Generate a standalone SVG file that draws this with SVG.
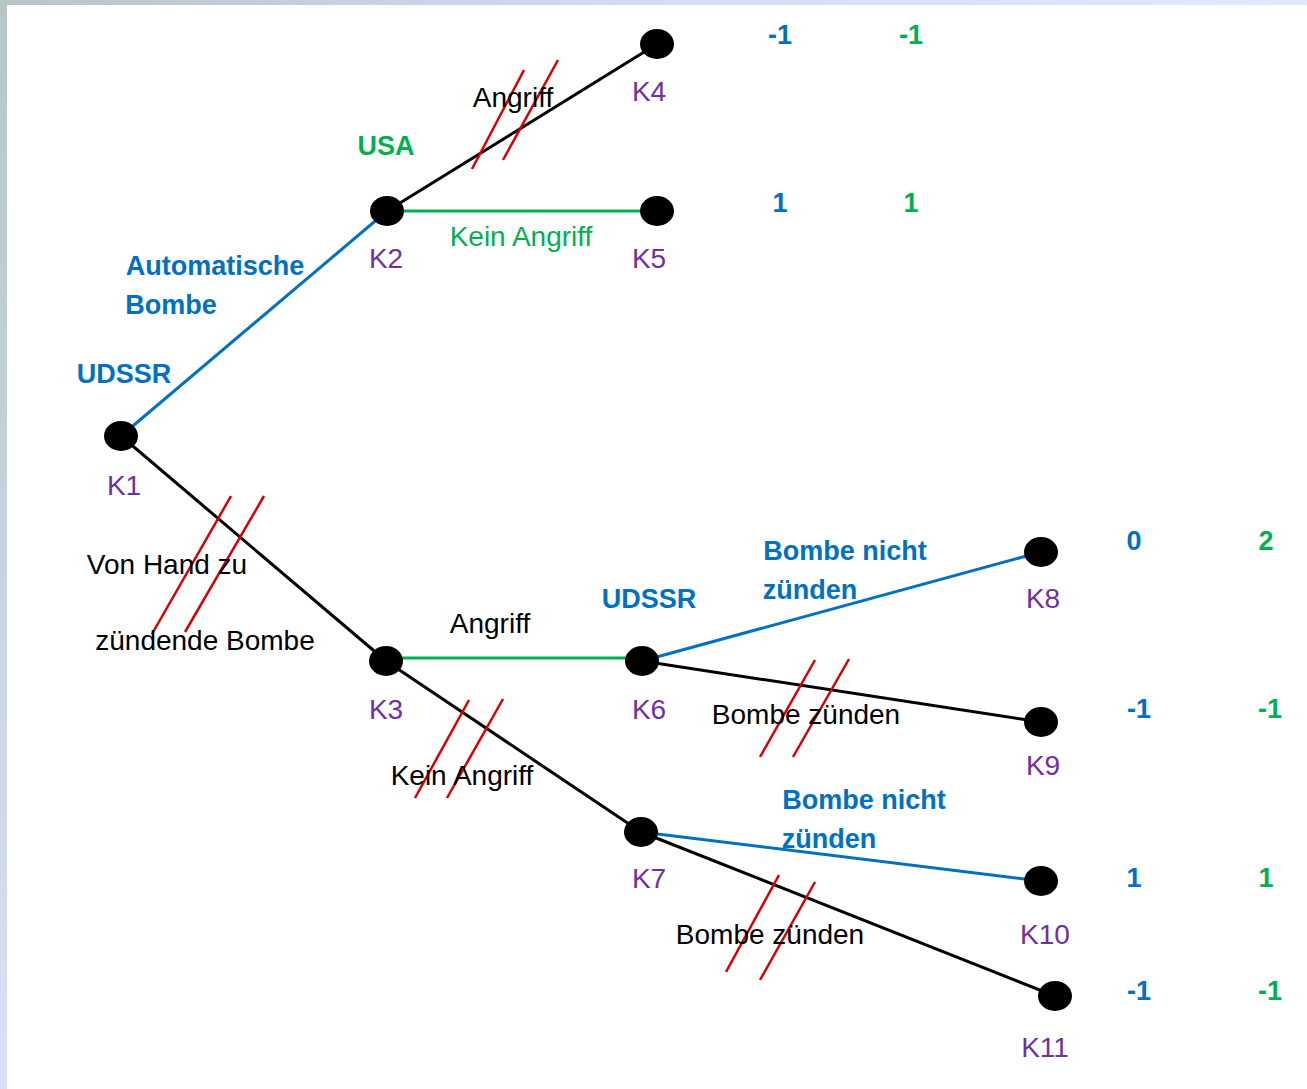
<svg xmlns="http://www.w3.org/2000/svg" width="1307" height="1089" viewBox="0 0 1307 1089">
<defs>
<linearGradient id="gTop" x1="0" y1="0" x2="1" y2="0"><stop offset="0" stop-color="#b6c6c6"/><stop offset="0.5" stop-color="#d3dcf6"/><stop offset="1" stop-color="#e2e9fb"/></linearGradient>
<linearGradient id="gLeft" x1="0" y1="0" x2="0" y2="1"><stop offset="0" stop-color="#b6c6c6"/><stop offset="1" stop-color="#d8e0f8"/></linearGradient>
<style>
text{font-family:"Liberation Sans",Arial,sans-serif;font-size:28px;text-anchor:middle}
.b{font-weight:bold;font-size:27px}
.bl{fill:#0070c0}.gr{fill:#00b050}.pu{fill:#7030a0}.bk{fill:#000}
.eb{stroke:#0070c0;stroke-width:3;fill:none}
.eg{stroke:#00b050;stroke-width:3;fill:none}
.ek{stroke:#000;stroke-width:3;fill:none}
.x{stroke:#d60000;stroke-width:2.5;fill:none}
.n{fill:#000}
</style>
</defs>
<rect width="1307" height="1089" fill="#fff"/>
<rect x="0" y="0" width="1307" height="5" fill="url(#gTop)"/>
<rect x="0" y="0" width="7" height="1089" fill="url(#gLeft)"/>

<g id="connectors">
<line class="eb" x1="121" y1="436" x2="387" y2="211"/>
<line class="ek" x1="121" y1="436" x2="386" y2="661"/>
<line class="ek" x1="387" y1="211" x2="657" y2="44"/>
<line class="eg" x1="387" y1="211" x2="657" y2="211"/>
<line class="eg" x1="386" y1="658" x2="642" y2="658"/>
<line class="ek" x1="386" y1="661" x2="641" y2="832"/>
<line class="eb" x1="642" y1="661" x2="1041" y2="552"/>
<line class="ek" x1="642" y1="661" x2="1041" y2="722"/>
<line class="eb" x1="641" y1="832" x2="1041" y2="881"/>
<line class="ek" x1="641" y1="832" x2="1055" y2="996"/>
</g>

<g id="strikes">
<line class="x" x1="472" y1="169" x2="524" y2="70"/>
<line class="x" x1="503" y1="160" x2="558" y2="60"/>
<line class="x" x1="152" y1="634" x2="231" y2="496"/>
<line class="x" x1="185" y1="632" x2="264" y2="496"/>
<line class="x" x1="415" y1="798" x2="469" y2="700"/>
<line class="x" x1="447" y1="798" x2="503" y2="699"/>
<line class="x" x1="760" y1="757" x2="815" y2="660"/>
<line class="x" x1="793" y1="757" x2="849" y2="659"/>
<line class="x" x1="726" y1="972" x2="779" y2="875"/>
<line class="x" x1="760" y1="980" x2="815" y2="882"/>
</g>

<g id="K1"><ellipse class="n" cx="121" cy="436" rx="17" ry="15"/><text class="pu" x="124" y="495">K1</text></g>
<g id="K2"><ellipse class="n" cx="387" cy="211" rx="17" ry="15"/><text class="pu" x="386" y="268">K2</text></g>
<g id="K3"><ellipse class="n" cx="386" cy="661" rx="17" ry="15"/><text class="pu" x="386" y="719">K3</text></g>
<g id="K4"><ellipse class="n" cx="657" cy="44" rx="17" ry="15"/><text class="pu" x="649" y="101">K4</text></g>
<g id="K5"><ellipse class="n" cx="657" cy="211" rx="17" ry="15"/><text class="pu" x="649" y="268">K5</text></g>
<g id="K6"><ellipse class="n" cx="642" cy="661" rx="17" ry="15"/><text class="pu" x="649" y="719">K6</text></g>
<g id="K7"><ellipse class="n" cx="641" cy="832" rx="17" ry="15"/><text class="pu" x="649" y="888">K7</text></g>
<g id="K8"><ellipse class="n" cx="1041" cy="552" rx="17" ry="15"/><text class="pu" x="1043" y="608">K8</text></g>
<g id="K9"><ellipse class="n" cx="1041" cy="722" rx="17" ry="15"/><text class="pu" x="1043" y="775">K9</text></g>
<g id="K10"><ellipse class="n" cx="1041" cy="881" rx="17" ry="15"/><text class="pu" x="1045" y="944">K10</text></g>
<g id="K11"><ellipse class="n" cx="1055" cy="996" rx="17" ry="15"/><text class="pu" x="1045" y="1057">K11</text></g>

<g id="labels">
<text class="b bl" x="124" y="383">UDSSR</text>
<text class="b bl" x="215" y="275">Automatische</text>
<text class="b bl" x="171" y="314">Bombe</text>
<text class="b gr" x="386" y="155">USA</text>
<text class="bk" x="513" y="107">Angriff</text>
<text class="gr" x="521" y="246">Kein Angriff</text>
<text class="bk" x="167" y="574">Von Hand zu</text>
<text class="bk" x="205" y="650">zündende Bombe</text>
<text class="bk" x="490" y="633">Angriff</text>
<text class="bk" x="462" y="785">Kein Angriff</text>
<text class="b bl" x="649" y="608">UDSSR</text>
<text class="b bl" x="845" y="560">Bombe nicht</text>
<text class="b bl" x="810" y="599">zünden</text>
<text class="bk" x="806" y="724">Bombe zünden</text>
<text class="b bl" x="864" y="809">Bombe nicht</text>
<text class="b bl" x="829" y="848">zünden</text>
<text class="bk" x="770" y="944">Bombe zünden</text>
</g>

<g id="payoffs">
<text class="b bl" x="780" y="44">-1</text><text class="b gr" x="911" y="44">-1</text>
<text class="b bl" x="780" y="212">1</text><text class="b gr" x="911" y="212">1</text>
<text class="b bl" x="1134" y="550">0</text><text class="b gr" x="1266" y="550">2</text>
<text class="b bl" x="1139" y="718">-1</text><text class="b gr" x="1270" y="718">-1</text>
<text class="b bl" x="1134" y="887">1</text><text class="b gr" x="1266" y="887">1</text>
<text class="b bl" x="1139" y="1000">-1</text><text class="b gr" x="1270" y="1000">-1</text>
</g>
</svg>
